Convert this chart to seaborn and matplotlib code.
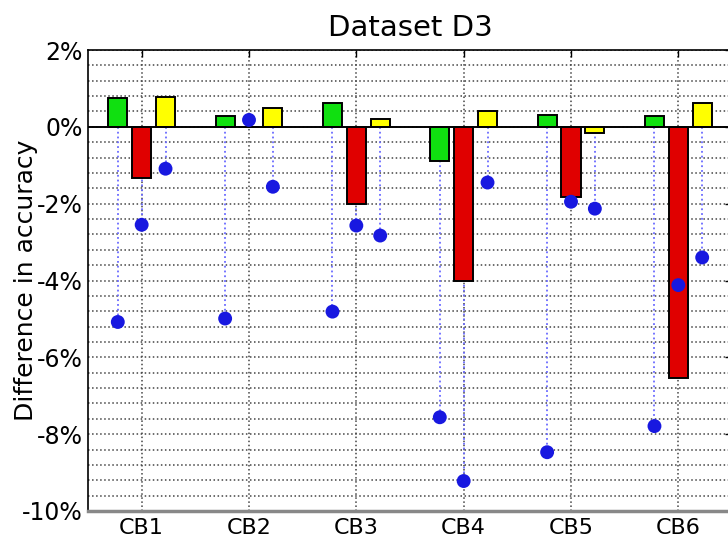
import numpy as np
import pandas as pd
import matplotlib
matplotlib.use("Agg")
import matplotlib.pyplot as plt
import seaborn as sns
from matplotlib.ticker import MultipleLocator, FuncFormatter

# Per-classifier differences in accuracy (%)
categories = ["CB1", "CB2", "CB3", "CB4", "CB5", "CB6"]
series = ["A", "B", "C"]
bars_a = [0.75, 0.29, 0.62, -0.88, 0.31, 0.29]
bars_b = [-1.33, 0.00, -2.00, -4.00, -1.82, -6.55]
bars_c = [0.78, 0.49, 0.20, 0.42, -0.16, 0.62]
points_a = [-5.08, -4.99, -4.81, -7.56, -8.47, -7.79]
points_b = [-2.55, 0.18, -2.57, -9.22, -1.95, -4.12]
points_c = [-1.09, -1.56, -2.83, -1.45, -2.13, -3.40]

bar_colors = ["#10e010", "#e00000", "#ffff00"]

sns.set_theme(style="white")
plt.rcParams["font.family"] = ["DejaVu Sans"]
plt.rcParams.update({"text.color": "black", "axes.labelcolor": "black",
                     "xtick.color": "black", "ytick.color": "black"})

bars = pd.DataFrame({
    "category": categories * 3,
    "series": np.repeat(series, len(categories)),
    "value": bars_a + bars_b + bars_c,
})
points = [points_a, points_b, points_c]

fig = plt.figure(figsize=(7.28, 5.37), dpi=100)
ax = fig.add_axes([88 / 728, 26 / 537, 644 / 728, 461 / 537])

sns.barplot(data=bars, x="category", y="value", hue="series", order=categories,
            hue_order=series, palette=bar_colors, width=0.667, gap=0.2,
            edgecolor="black", linewidth=1.4, saturation=1, legend=False,
            errorbar=None, ax=ax, zorder=3)

# Centers of each drawn bar, grouped per series
patches = list(ax.patches)
n = len(categories)
centers = [[patches[s * n + i].get_x() + patches[s * n + i].get_width() / 2
            for i in range(n)] for s in range(len(series))]

for s in range(len(series)):
    xs = centers[s]
    ax.vlines(xs, 0, points[s], colors="#6a6aff", linestyles=":", linewidth=1.3, zorder=2)
    sns.scatterplot(x=xs, y=points[s], color="#1818e0", s=100, edgecolor="none",
                    ax=ax, zorder=5, legend=False)

ax.axhline(0, color="black", linewidth=1.4, zorder=4)

ax.set_xlim(-0.5, len(categories) - 0.5)
ax.set_ylim(-10, 2)
ax.yaxis.set_major_locator(MultipleLocator(2))
ax.yaxis.set_minor_locator(MultipleLocator(0.4))
ax.yaxis.set_major_formatter(FuncFormatter(lambda v, _: f"{int(round(v))}%"))
ax.grid(True, which="major", axis="both", linestyle=":", color="#444444", linewidth=1.1, zorder=0)
ax.grid(True, which="minor", axis="y", linestyle=":", color="#444444", linewidth=1.1, zorder=0)
ax.set_axisbelow(True)

ax.tick_params(axis="both", which="major", direction="in", length=5, width=1,
               top=True, right=True, colors="black", pad=5)
ax.tick_params(axis="x", labelsize=16)
ax.tick_params(axis="y", labelsize=17, pad=4)
ax.tick_params(axis="y", which="minor", length=0)
for sp in ax.spines.values():
    sp.set_color("black")
    sp.set_linewidth(1.2)
ax.spines["bottom"].set_color("#888888")
ax.spines["bottom"].set_linewidth(2.5)

ax.set_xlabel("")
ax.set_ylabel("Difference in accuracy", fontsize=18)
ax.yaxis.set_label_coords(-0.078, 0.5)
ax.set_title("Dataset D3", fontsize=21, pad=10)

fig.savefig("out.png", dpi=100)
